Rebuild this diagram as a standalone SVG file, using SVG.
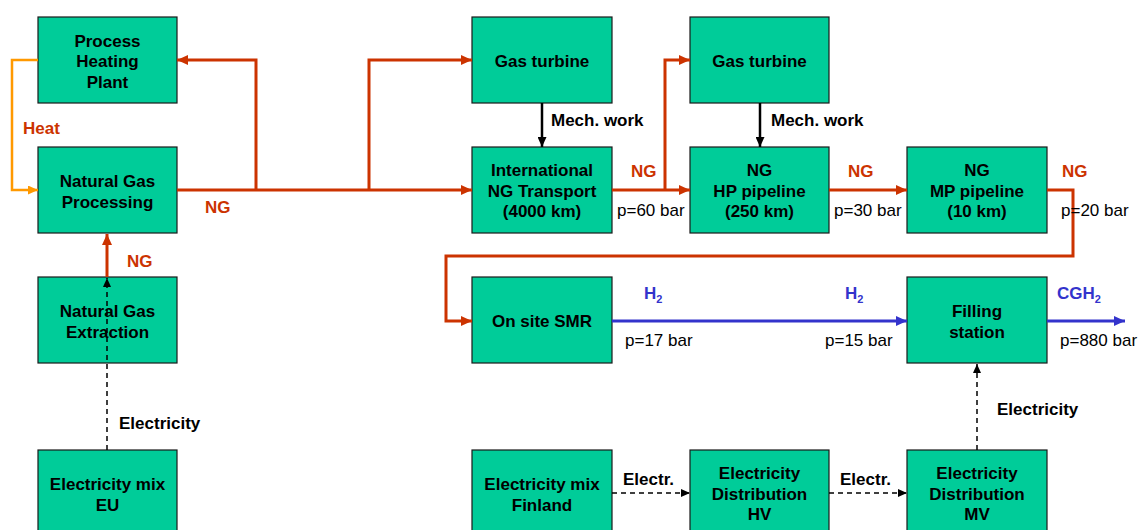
<svg xmlns="http://www.w3.org/2000/svg" width="1140" height="530" viewBox="0 0 1140 530">
<style>
.box{fill:#00CC99;stroke:#1a1a1a;stroke-width:1.2}
.t{font-family:"Liberation Sans",Arial,sans-serif;font-size:17px;font-weight:bold;fill:#000;text-anchor:middle}
.lb{font-family:"Liberation Sans",Arial,sans-serif;font-size:17px;font-weight:bold;fill:#000}
.lr{font-family:"Liberation Sans",Arial,sans-serif;font-size:17px;font-weight:bold;fill:#CC3300}
.lbl{font-family:"Liberation Sans",Arial,sans-serif;font-size:17px;font-weight:bold;fill:#3333CC}
.lp{font-family:"Liberation Sans",Arial,sans-serif;font-size:17px;fill:#000}
.red{fill:none;stroke:#CC3300;stroke-width:3}
.blue{fill:none;stroke:#3333CC;stroke-width:3}
.orange{fill:none;stroke:#FF9900;stroke-width:2.5}
.black{fill:none;stroke:#000;stroke-width:2.5}
.dash{fill:none;stroke:#000;stroke-width:1.5;stroke-dasharray:5,4}
</style>
<defs>
<marker id="aRed" markerUnits="userSpaceOnUse" markerWidth="11" markerHeight="10" refX="11" refY="5" orient="auto"><path d="M0,0 L11,5 L0,10 z" fill="#CC3300"/></marker>
<marker id="aBlue" markerUnits="userSpaceOnUse" markerWidth="11" markerHeight="10" refX="11" refY="5" orient="auto"><path d="M0,0 L11,5 L0,10 z" fill="#3333CC"/></marker>
<marker id="aOr" markerUnits="userSpaceOnUse" markerWidth="10" markerHeight="9" refX="10" refY="4.5" orient="auto"><path d="M0,0 L10,4.5 L0,9 z" fill="#FF9900"/></marker>
<marker id="aBlk" markerUnits="userSpaceOnUse" markerWidth="10" markerHeight="9" refX="10" refY="4.5" orient="auto"><path d="M0,0 L10,4.5 L0,9 z" fill="#000"/></marker>
<marker id="aDash" markerUnits="userSpaceOnUse" markerWidth="9" markerHeight="8" refX="9" refY="4" orient="auto"><path d="M0,0 L9,4 L0,8 z" fill="#000"/></marker>
</defs>

<g id="n-heating-plant"><rect class="box" x="38" y="17" width="139" height="86"/><text class="t" x="107.5" y="46.5">Process</text><text class="t" x="107.5" y="67">Heating</text><text class="t" x="107.5" y="87.5">Plant</text></g>
<g id="n-processing"><rect class="box" x="38" y="147" width="139" height="86"/><text class="t" x="107.5" y="187">Natural Gas</text><text class="t" x="107.5" y="208">Processing</text></g>
<g id="n-extraction"><rect class="box" x="38" y="277" width="139" height="86"/><text class="t" x="107.5" y="317">Natural Gas</text><text class="t" x="107.5" y="338">Extraction</text></g>
<g id="n-elmix-eu"><rect class="box" x="38" y="450" width="139" height="86"/><text class="t" x="107.5" y="490">Electricity mix</text><text class="t" x="107.5" y="511">EU</text></g>
<g id="n-gasturbine1"><rect class="box" x="472" y="17" width="140" height="86"/><text class="t" x="542" y="66.5">Gas turbine</text></g>
<g id="n-gasturbine2"><rect class="box" x="690" y="17" width="139" height="86"/><text class="t" x="759.5" y="66.5">Gas turbine</text></g>
<g id="n-transport"><rect class="box" x="472" y="147" width="140" height="86"/><text class="t" x="542" y="176">International</text><text class="t" x="542" y="196.5">NG Transport</text><text class="t" x="542" y="217">(4000 km)</text></g>
<g id="n-hp"><rect class="box" x="690" y="147" width="139" height="86"/><text class="t" x="759.5" y="176">NG</text><text class="t" x="759.5" y="196.5">HP pipeline</text><text class="t" x="759.5" y="217">(250 km)</text></g>
<g id="n-mp"><rect class="box" x="907" y="147" width="140" height="86"/><text class="t" x="977" y="176">NG</text><text class="t" x="977" y="196.5">MP pipeline</text><text class="t" x="977" y="217">(10 km)</text></g>
<g id="n-smr"><rect class="box" x="472" y="277" width="140" height="86"/><text class="t" x="542" y="327">On site SMR</text></g>
<g id="n-filling"><rect class="box" x="907" y="277" width="140" height="86"/><text class="t" x="977" y="317">Filling</text><text class="t" x="977" y="338">station</text></g>
<g id="n-elmix-fi"><rect class="box" x="472" y="450" width="140" height="86"/><text class="t" x="542" y="490">Electricity mix</text><text class="t" x="542" y="511">Finland</text></g>
<g id="n-dist-hv"><rect class="box" x="690" y="450" width="139" height="86"/><text class="t" x="759.5" y="479">Electricity</text><text class="t" x="759.5" y="499.5">Distribution</text><text class="t" x="759.5" y="520">HV</text></g>
<g id="n-dist-mv"><rect class="box" x="907" y="450" width="140" height="86"/><text class="t" x="977" y="479">Electricity</text><text class="t" x="977" y="499.5">Distribution</text><text class="t" x="977" y="520">MV</text></g>

<g id="connectors">
<path class="orange" d="M38,60 H12 V190 H38" marker-end="url(#aOr)"/>
<path class="red" d="M177,190 H472" marker-end="url(#aRed)"/>
<path class="red" d="M256,190 V60 H177" marker-end="url(#aRed)"/>
<path class="red" d="M369,190 V60 H472" marker-end="url(#aRed)"/>
<path class="red" d="M612,190 H690" marker-end="url(#aRed)"/>
<path class="red" d="M665,190 V60 H690" marker-end="url(#aRed)"/>
<path class="red" d="M829,190 H907" marker-end="url(#aRed)"/>
<path class="red" d="M1047,190 H1073 V256 H446 V321 H472" marker-end="url(#aRed)"/>
<path class="red" d="M107,277 V234" marker-end="url(#aRed)"/>
<path class="dash" d="M107,450 V278" marker-end="url(#aDash)"/>
<path class="black" d="M542,103 V147" marker-end="url(#aBlk)"/>
<path class="black" d="M760,103 V147" marker-end="url(#aBlk)"/>
<path class="blue" d="M612,321 H907" marker-end="url(#aBlue)"/>
<path class="blue" d="M1047,321 H1125" marker-end="url(#aBlue)"/>
<path class="dash" d="M612,493 H690" marker-end="url(#aDash)"/>
<path class="dash" d="M829,493 H907" marker-end="url(#aDash)"/>
<path class="dash" d="M977,450 V364" marker-end="url(#aDash)"/>
</g>

<g id="labels">
<text class="lr" x="23" y="134">Heat</text>
<text class="lr" x="205" y="213">NG</text>
<text class="lr" x="127" y="267">NG</text>
<text class="lb" x="119" y="429">Electricity</text>
<text class="lb" x="551" y="126">Mech. work</text>
<text class="lb" x="771" y="126">Mech. work</text>
<text class="lr" x="631" y="177">NG</text>
<text class="lp" x="617" y="216">p=60 bar</text>
<text class="lr" x="848" y="177">NG</text>
<text class="lp" x="834" y="216">p=30 bar</text>
<text class="lr" x="1062" y="177">NG</text>
<text class="lp" x="1061" y="216">p=20 bar</text>
<text class="lbl" x="644" y="299">H<tspan font-size="11" dy="4">2</tspan></text>
<text class="lbl" x="845" y="299">H<tspan font-size="11" dy="4">2</tspan></text>
<text class="lbl" x="1057" y="299">CGH<tspan font-size="11" dy="4">2</tspan></text>
<text class="lp" x="625" y="346">p=17 bar</text>
<text class="lp" x="825" y="346">p=15 bar</text>
<text class="lp" x="1060" y="346">p=880 bar</text>
<text class="lb" x="623" y="485">Electr.</text>
<text class="lb" x="840" y="485">Electr.</text>
<text class="lb" x="997" y="415">Electricity</text>
</g>
</svg>
